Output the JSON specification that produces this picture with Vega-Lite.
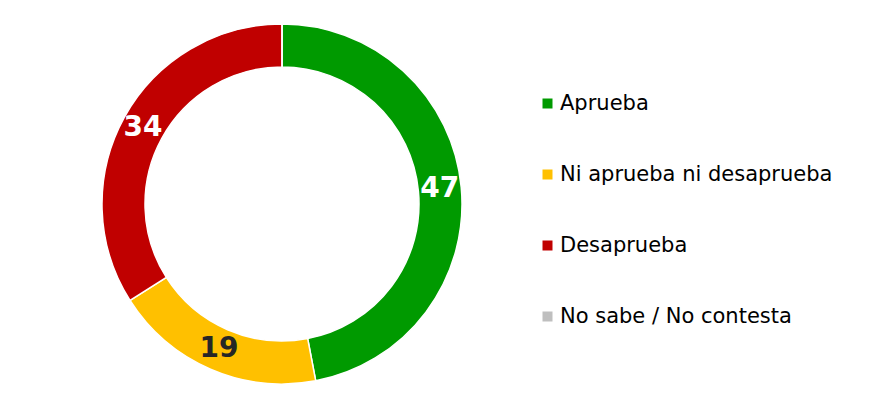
{
  "$schema": "https://vega.github.io/schema/vega-lite/v6.json",
  "width": 554,
  "height": 398,
  "padding": 5,
  "background": "white",
  "config": {"view": {"stroke": null}},
  "data": {
    "values": [
      {"categoria": "Aprueba", "valor": 47, "n": 1},
      {"categoria": "Ni aprueba ni desaprueba", "valor": 19, "n": 2},
      {"categoria": "Desaprueba", "valor": 34, "n": 3},
      {"categoria": "No sabe / No contesta", "valor": 0, "n": 4}
    ]
  },
  "encoding": {
    "theta": {"field": "valor", "type": "quantitative", "stack": true},
    "order": {"field": "n", "type": "quantitative"}
  },
  "layer": [
    {
      "mark": {"type": "arc", "outerRadius": 180, "innerRadius": 137, "stroke": "white", "strokeWidth": 1.5},
      "encoding": {
        "color": {
          "field": "categoria",
          "type": "nominal",
          "sort": ["Aprueba", "Ni aprueba ni desaprueba", "Desaprueba", "No sabe / No contesta"],
          "scale": {
            "domain": ["Aprueba", "Ni aprueba ni desaprueba", "Desaprueba", "No sabe / No contesta"],
            "range": ["#009A00", "#FFC000", "#C00000", "#BFBFBF"]
          },
          "legend": {
            "title": null,
            "orient": "none",
            "legendX": 532,
            "legendY": 88,
            "symbolType": "square",
            "symbolSize": 100,
            "symbolStrokeWidth": 0,
            "labelFont": "DejaVu Sans",
            "labelFontSize": 21,
            "labelColor": "#000000",
            "labelOffset": 2,
            "rowPadding": 49,
            "labelLimit": 400
          }
        }
      }
    },
    {
      "transform": [{"filter": "datum.valor > 0"}],
      "mark": {"type": "text", "radius": 158.5, "font": "DejaVu Sans", "fontWeight": "bold", "fontSize": 28, "align": "center", "baseline": "middle"},
      "encoding": {
        "text": {"field": "valor", "type": "quantitative"},
        "color": {
          "condition": {"test": "datum.categoria === 'Ni aprueba ni desaprueba'", "value": "#262626"},
          "value": "#FFFFFF"
        }
      }
    }
  ]
}
